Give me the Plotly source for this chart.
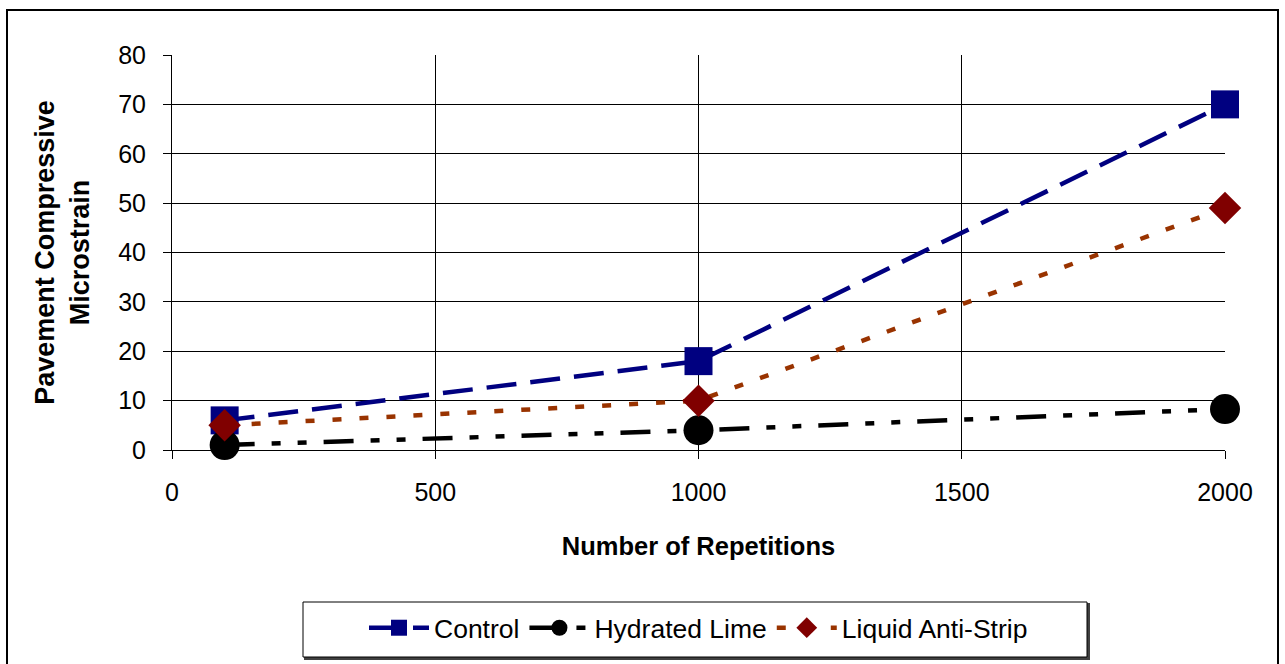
import plotly.graph_objects as go

repetitions = [100, 1000, 2000]
control = [6, 18, 70]
hydrated_lime = [1, 4, 8.3]
liquid_anti_strip = [5, 10, 49]

x_ticks = [0, 500, 1000, 1500, 2000]
y_ticks = [0, 10, 20, 30, 40, 50, 60, 70, 80]

fig = go.Figure()
fig.add_trace(go.Scatter(
    x=repetitions, y=control, name="Control", mode="lines+markers",
    line=dict(color="#000080", width=4.5, dash="30px,14px"),
    marker=dict(symbol="square", size=28, color="#000080"),
    cliponaxis=False,
))
fig.add_trace(go.Scatter(
    x=repetitions, y=hydrated_lime, name="Hydrated Lime", mode="lines+markers",
    line=dict(color="#000000", width=4.5, dash="30px,17px,9px,17px,9px,17px"),
    marker=dict(symbol="circle", size=30, color="#000000"),
    cliponaxis=False,
))
fig.add_trace(go.Scatter(
    x=repetitions, y=liquid_anti_strip, name="Liquid Anti-Strip", mode="lines+markers",
    line=dict(color="#993300", width=4.5, dash="9px,18px"),
    marker=dict(symbol="diamond", size=25, color="#800000"),
    cliponaxis=False,
))

font_family = "Liberation Sans, Arial, sans-serif"

L, T, W, H = 172, 55, 1053, 395


def px(xp):
    return (xp - L) / W


def py(yp):
    return (T + H - yp) / H


fig.update_layout(
    width=1285, height=664,
    paper_bgcolor="white", plot_bgcolor="white",
    margin=dict(l=L, r=1285 - L - W, t=T, b=664 - T - H),
    font=dict(family=font_family, size=25, color="black"),
    showlegend=True,
    legend=dict(
        orientation="h", x=0.5, xanchor="center", y=py(604), yanchor="top",
        font=dict(size=26.5, color="black", family=font_family),
        borderwidth=0, bgcolor="rgba(0,0,0,0)",
        itemwidth=60, traceorder="normal",
    ),
    xaxis=dict(
        range=[0, 2000], tickvals=x_ticks, ticktext=[str(v) for v in x_ticks],
        showgrid=True, gridcolor="black", gridwidth=1,
        ticks="outside", ticklen=8, tickcolor="black",
        showline=True, linecolor="black", linewidth=1,
        zeroline=False, ticklabelstandoff=12,
        title=dict(text="<b>Number of Repetitions</b>", font=dict(size=25.5), standoff=32),
        tickfont=dict(size=25),
    ),
    yaxis=dict(
        range=[0, 80], tickvals=y_ticks, ticktext=[str(v) for v in y_ticks],
        showgrid=True, gridcolor="black", gridwidth=1,
        ticks="outside", ticklen=8, tickcolor="black",
        showline=True, linecolor="black", linewidth=1,
        zeroline=False, ticklabelstandoff=12,
        title=dict(text="<b>Pavement Compressive<br>Microstrain</b>", font=dict(size=27), standoff=20),
        tickfont=dict(size=25),
    ),
)

# outer chart border
fig.add_shape(
    type="rect", xref="paper", yref="paper",
    x0=px(7), x1=px(1278), y0=py(670), y1=py(10),
    line=dict(color="black", width=2), fillcolor="rgba(0,0,0,0)", layer="below",
)
# legend box shadow and box
fig.add_shape(
    type="rect", xref="paper", yref="paper",
    x0=px(305), x1=px(1089), y0=py(659), y1=py(604),
    line=dict(color="#404040", width=2), fillcolor="#404040", layer="below",
)
fig.add_shape(
    type="rect", xref="paper", yref="paper",
    x0=px(303), x1=px(1087), y0=py(657), y1=py(602),
    line=dict(color="black", width=1), fillcolor="white", layer="below",
)

fig.write_html("out.html", config={"displayModeBar": False},
               post_script="document.body.style.margin='0';")
